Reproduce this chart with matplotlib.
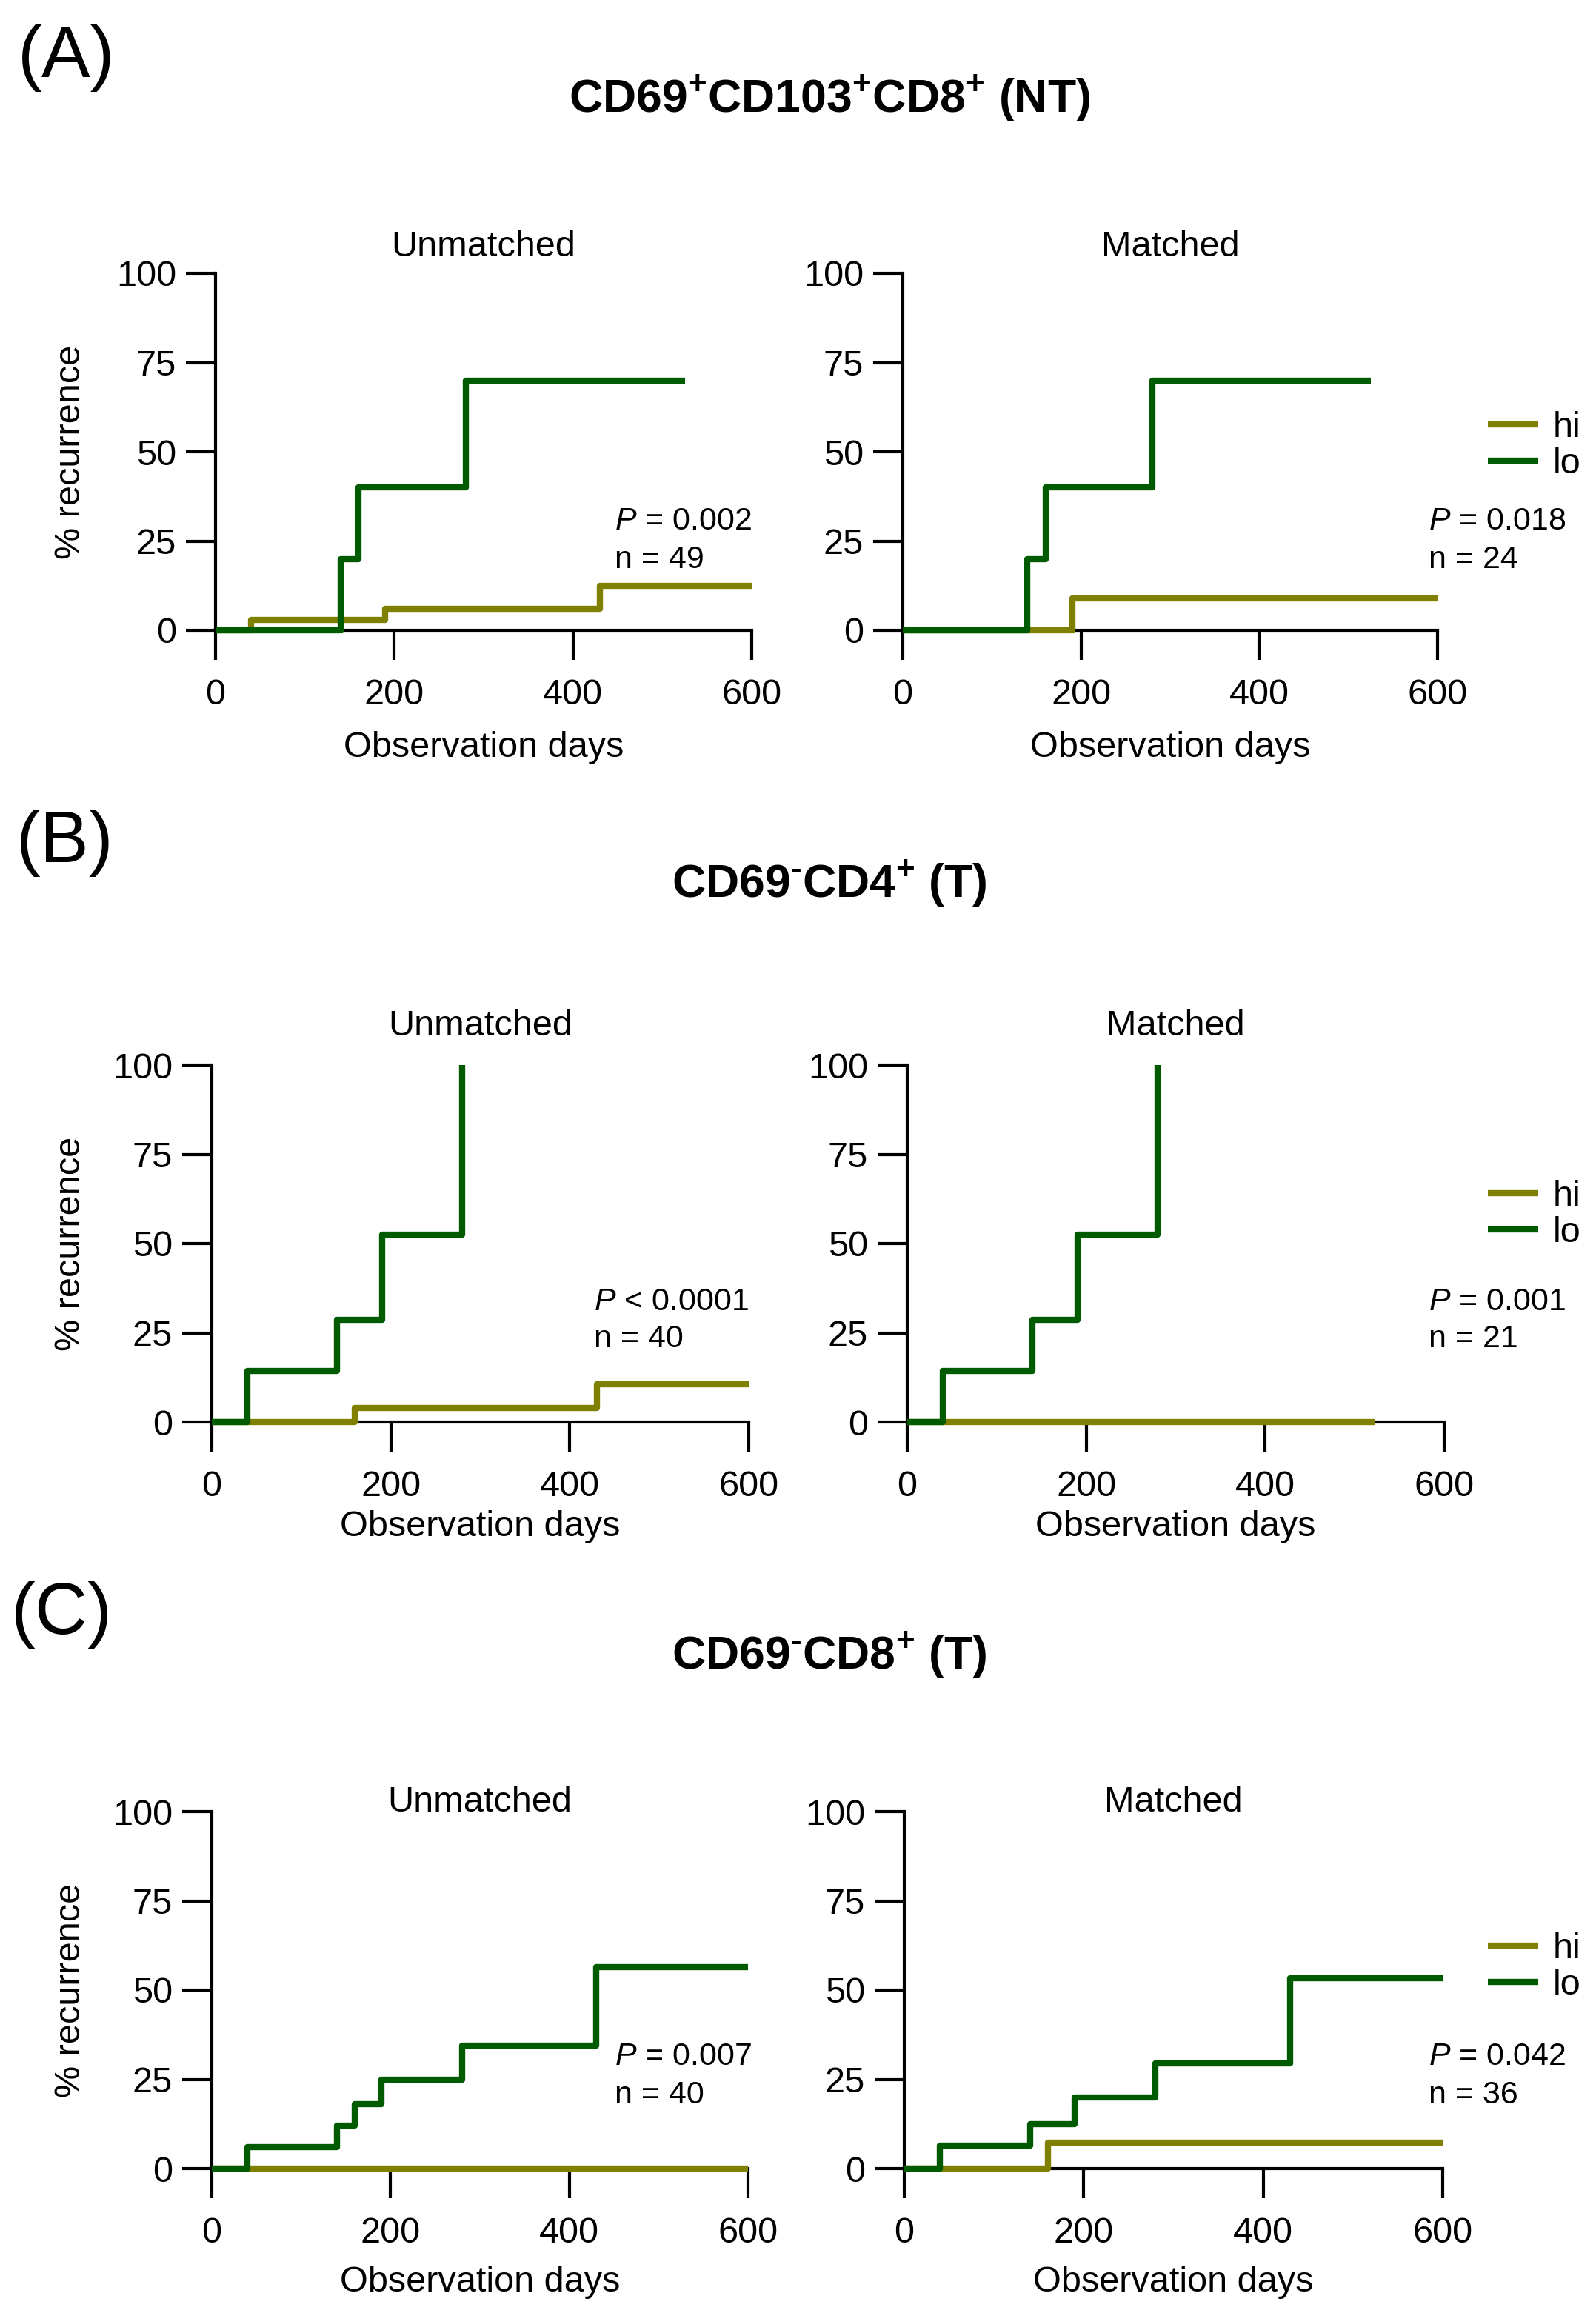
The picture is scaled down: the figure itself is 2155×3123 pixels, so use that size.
import matplotlib
matplotlib.use('Agg')
import matplotlib.pyplot as plt

# recurrence curves (days, % recurrence)
a_un_hi_x = [0, 40, 190, 430, 600]
a_un_hi_y = [0, 3, 6, 12.5, 12.5]
a_un_lo_x = [0, 140, 160, 280, 525]
a_un_lo_y = [0, 20, 40, 70, 70]
a_m_hi_x = [0, 190, 600]
a_m_hi_y = [0, 9, 9]
a_m_lo_x = [0, 140, 160, 280, 525]
a_m_lo_y = [0, 20, 40, 70, 70]

b_un_hi_x = [0, 160, 430, 600]
b_un_hi_y = [0, 4, 10.5, 10.5]
b_un_lo_x = [0, 40, 140, 190, 280, 280]
b_un_lo_y = [0, 14.3, 28.6, 52.4, 100, 100]
b_m_hi_x = [0, 522]
b_m_hi_y = [0, 0]
b_m_lo_x = [0, 40, 140, 190, 280, 280]
b_m_lo_y = [0, 14.3, 28.6, 52.4, 100, 100]

c_un_hi_x = [0, 600]
c_un_hi_y = [0, 0]
c_un_lo_x = [0, 40, 140, 160, 190, 280, 430, 600]
c_un_lo_y = [0, 6, 12, 18, 25, 34.5, 56.5, 56.5]
c_m_hi_x = [0, 160, 600]
c_m_hi_y = [0, 7.2, 7.2]
c_m_lo_x = [0, 40, 140, 190, 280, 430, 600]
c_m_lo_y = [0, 6.5, 12.5, 20, 29.5, 53.3, 53.3]

letters = ['(A)', '(B)', '(C)']
titles = [r'$\mathbf{CD69^{+}CD103^{+}CD8^{+}\ (NT)}$',
          '$\\mathbf{CD69^{\u2010}CD4^{+}\\ (T)}$',
          '$\\mathbf{CD69^{\u2010}CD8^{+}\\ (T)}$']
p_un = [r'$P$ = 0.002', r'$P$ < 0.0001', r'$P$ = 0.007']
n_un = ['n = 49', 'n = 40', 'n = 40']
p_m = [r'$P$ = 0.018', r'$P$ = 0.001', r'$P$ = 0.042']
n_m = ['n = 24', 'n = 21', 'n = 36']
xticks = [0, 200, 400, 600]
yticks = [0, 25, 50, 75, 100]

HI_COL = '#7f7f00'
LO_COL = '#005a00'

W, H = 2155, 3123

plt.rcParams['font.family'] = ['Liberation Sans', 'DejaVu Sans']
plt.rcParams['mathtext.fontset'] = 'custom'
plt.rcParams['mathtext.rm'] = 'Liberation Sans'
plt.rcParams['mathtext.it'] = 'Liberation Sans:italic'
plt.rcParams['mathtext.bf'] = 'Liberation Sans:bold'

fig = plt.figure(figsize=(W / 100, H / 100), dpi=100)


def ftext(x, y, s, **kw):
    return fig.text(x / W, 1 - y / H, s, **kw)


curves = [
    [(a_un_hi_x, a_un_hi_y, a_un_lo_x, a_un_lo_y), (a_m_hi_x, a_m_hi_y, a_m_lo_x, a_m_lo_y)],
    [(b_un_hi_x, b_un_hi_y, b_un_lo_x, b_un_lo_y), (b_m_hi_x, b_m_hi_y, b_m_lo_x, b_m_lo_y)],
    [(c_un_hi_x, c_un_hi_y, c_un_lo_x, c_un_lo_y), (c_m_hi_x, c_m_hi_y, c_m_lo_x, c_m_lo_y)],
]

# pixel layout: (x0, x600) for both columns, y of 0 line per row
cols = [[(291, 1015), (1219, 1941)],
        [(286, 1011), (1225, 1950)],
        [(286, 1010), (1221, 1948)]]
y0s = [851, 1920, 2928]
axh = 482
letter_y = [78, 1138, 2180]
letter_x = [24, 22, 15]
title_y = [134, 1194, 2236]
sub_y = [333, 1385, 2433]
xlab_y = [1009, 2062, 3082]
p_y = [(704, 756), (1758, 1808), (2777, 2829)]
p_x_un = [830, 802, 830]
leg_y = [602, 1640, 2656]

for r in range(3):
    ftext(letter_x[r], letter_y[r], letters[r], fontsize=71, ha='left', va='center')
    ftext(1120, title_y[r], titles[r], fontsize=45, ha='center', va='center')
    for c in range(2):
        x0, x1 = cols[r][c]
        y0 = y0s[r]
        ax = fig.add_axes([x0 / W, 1 - y0 / H, (x1 - x0) / W, axh / H])
        hx, hy, lx, ly = curves[r][c]
        h_line, = ax.step(hx, hy, where='post', color=HI_COL, lw=6,
                          solid_capstyle='butt', clip_on=False, zorder=3, label='hi')
        l_line, = ax.step(lx, ly, where='post', color=LO_COL, lw=6,
                          solid_capstyle='butt', clip_on=False, zorder=4, label='lo')
        ax.set_xlim(0, 600)
        ax.set_ylim(0, 100)
        ax.set_xticks(xticks)
        ax.set_yticks(yticks)
        for s in ['top', 'right']:
            ax.spines[s].set_visible(False)
        for s in ['left', 'bottom']:
            ax.spines[s].set_linewidth(3)
        ax.tick_params(axis='both', direction='out', length=29, width=3, labelsize=35)
        ax.tick_params(axis='x', pad=18)
        ax.tick_params(axis='y', pad=9)
        ax.set_facecolor('none')

        xc = (x0 + x1) / 2
        ftext(xc, sub_y[r], 'Unmatched' if c == 0 else 'Matched',
              fontsize=35, ha='center', va='center')
        ftext(xc, xlab_y[r], 'Observation days', fontsize=35, ha='center', va='center')
        if c == 0:
            ftext(96, y0 - axh / 2, '% recurrence', fontsize=35, rotation=90,
                  ha='center', va='center')
            ftext(p_x_un[r], p_y[r][0], p_un[r], fontsize=31, ha='left', va='center')
            ftext(p_x_un[r], p_y[r][1], n_un[r], fontsize=31, ha='left', va='center')
        else:
            ftext(1929, p_y[r][0], p_m[r], fontsize=31, ha='left', va='center')
            ftext(1929, p_y[r][1], n_m[r], fontsize=31, ha='left', va='center')
            fig.legend(handles=[h_line, l_line], loc='center left',
                       bbox_to_anchor=(2009 / W, 1 - leg_y[r] / H),
                       frameon=False, fontsize=35, handlelength=1.4,
                       handletextpad=0.4, labelspacing=0.1, borderpad=0,
                       borderaxespad=0)

fig.savefig('out.png', dpi=100, facecolor='white')
